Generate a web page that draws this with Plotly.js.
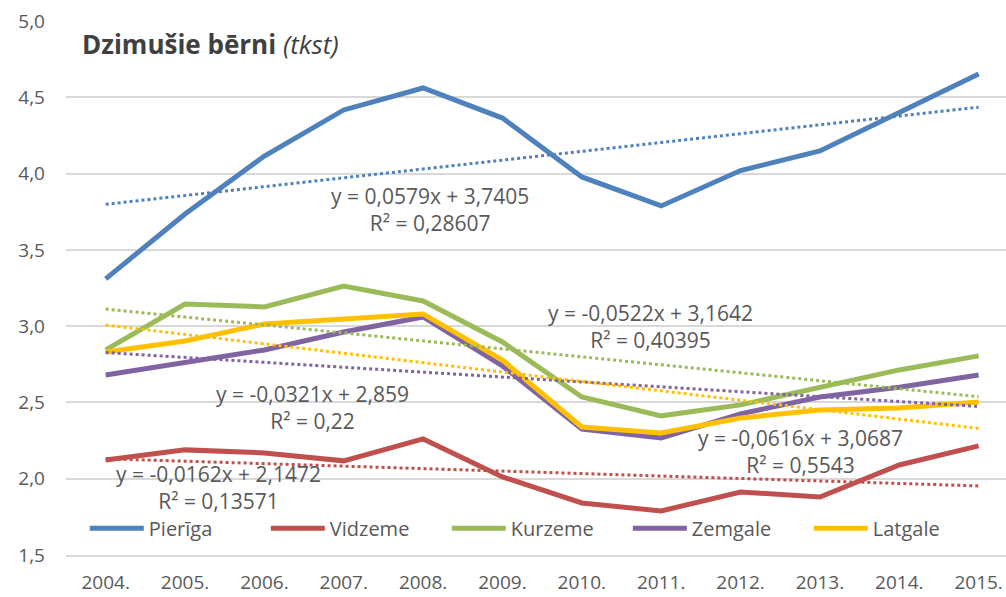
<!DOCTYPE html>
<html>
<head>
<meta charset="utf-8">
<script src="https://cdn.plot.ly/plotly-3.0.1.min.js"></script>
<style>html,body{margin:0;padding:0;background:#fff;}#chart{width:1006px;height:597px;}</style>
</head>
<body>
<div id="chart"></div>
<script>
const years = ["2004.","2005.","2006.","2007.","2008.","2009.","2010.","2011.","2012.","2013.","2014.","2015."];
const pieriga = [3.31,3.735,4.115,4.417,4.561,4.364,3.978,3.788,4.02,4.148,4.40,4.653];
const vidzeme = [2.123,2.189,2.169,2.117,2.261,2.012,1.841,1.789,1.913,1.88,2.09,2.215];
const kurzeme = [2.844,3.145,3.126,3.263,3.165,2.896,2.536,2.412,2.484,2.60,2.713,2.805];
const zemgale = [2.68,2.765,2.844,2.962,3.06,2.739,2.326,2.267,2.425,2.536,2.60,2.68];
const latgale = [2.831,2.903,3.014,3.047,3.08,2.778,2.339,2.30,2.398,2.45,2.464,2.503];

const seriesNames = ["Pierīga","Vidzeme","Kurzeme","Zemgale","Latgale"];
const seriesData = [pieriga, vidzeme, kurzeme, zemgale, latgale];
const colors = ["#4f81bd","#c0504d","#9bbb59","#8064a2","#ffc000"];

// linear trend equations shown on the chart (x = 1..12)
const trendSlopes = [0.0579,-0.0162,-0.0522,-0.0321,-0.0616];
const trendIntercepts = [3.7405,2.1472,3.1642,2.859,3.0687];
const trendR2 = ["0,28607","0,13571","0,40395","0,22","0,5543"];
const trendSlopeText = ["0,0579","-0,0162","-0,0522","-0,0321","-0,0616"];
const trendInterceptText = ["3,7405","2,1472","3,1642","2,859","3,0687"];

const traces = [];
seriesNames.forEach((n,i)=>{
  traces.push({x: years, y: seriesData[i], type:'scatter', mode:'lines', name:n,
    line:{color:colors[i], width:5}});
});
seriesNames.forEach((n,i)=>{
  traces.push({x: years, y: years.map((_,k)=>trendSlopes[i]*(k+1)+trendIntercepts[i]),
    type:'scatter', mode:'lines', showlegend:false, hoverinfo:'skip',
    line:{color:colors[i], width:3, dash:'dot'}});
});

// label anchors (category index, value) for each trend equation
const labelPos = [[4.09,3.765],[1.42,1.94],[6.86,2.995],[2.61,2.47],[8.75,2.176]];
const annotations = seriesNames.map((n,i)=>({
  xref:'x', yref:'y', x: labelPos[i][0], y: labelPos[i][1], showarrow:false,
  text: 'y = '+trendSlopeText[i]+'x + '+trendInterceptText[i]+'<br>R² = '+trendR2[i],
  font:{family:'Open Sans, sans-serif', size:21, color:'#595959'}, align:'center'
}));

const layout = {
  width:1006, height:597,
  margin:{l:66, r:0, t:21, b:42},
  paper_bgcolor:'#fff', plot_bgcolor:'#fff',
  separators:', ',
  showlegend:true,
  title:{text:'<b>Dzimušie bērni</b> <i>(tkst)</i>', x:82/1006, xanchor:'left', xref:'container',
    y:1-45/597, yanchor:'middle', yref:'container',
    font:{family:'Open Sans, sans-serif', size:26, color:'#404040'}},
  xaxis:{type:'category', range:[-0.5, 11.345], showgrid:false, zeroline:false,
    showline:true, linecolor:'#d9d9d9', linewidth:2, ticks:'', ticklabelstandoff:9,
    tickfont:{family:'Open Sans, sans-serif', size:19, color:'#595959'}},
  yaxis:{range:[1.5,5.0], dtick:0.5, tick0:1.5, tickformat:'.1f', showgrid:true,
    gridcolor:'#d9d9d9', gridwidth:2, zeroline:false, showline:false, ticks:'', ticklabelstandoff:20,
    tickfont:{family:'Open Sans, sans-serif', size:19, color:'#595959'}},
  legend:{orientation:'h', x:0.02, xanchor:'left', y:0.05, yanchor:'middle',
    bgcolor:'rgba(0,0,0,0)', entrywidth:112, entrywidthmode:'pixels', itemwidth:54,
    font:{family:'Open Sans, sans-serif', size:20, color:'#595959'}},
  annotations: annotations
};

Plotly.newPlot('chart', traces, layout, {displayModeBar:false, staticPlot:true});
</script>
</body>
</html>
